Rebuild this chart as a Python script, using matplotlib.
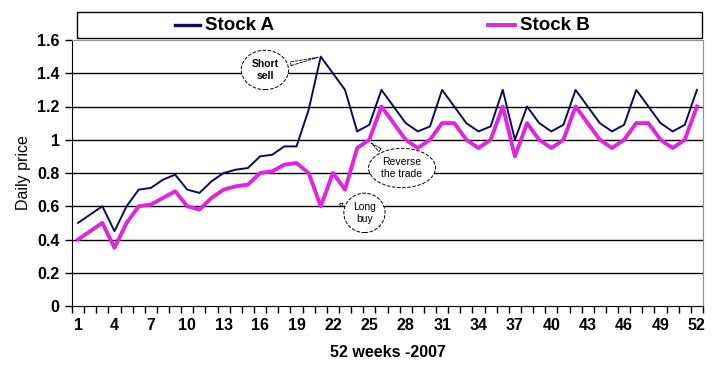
#imports
import numpy as np
import matplotlib
matplotlib.use('Agg')
from matplotlib import pyplot as plt
from matplotlib.patches import Rectangle
from matplotlib.lines import Line2D

plt.rcParams['font.family'] = ['Liberation Sans', 'DejaVu Sans']

#dados
semanas = list(range(1, 53))
stockA = [0.50, 0.55, 0.60, 0.45, 0.60, 0.70, 0.71, 0.76, 0.79, 0.70,
          0.68, 0.75, 0.80, 0.82, 0.83, 0.90, 0.91, 0.96, 0.96, 1.18,
          1.50, 1.40, 1.30, 1.05, 1.09, 1.30, 1.20, 1.10, 1.05, 1.08,
          1.30, 1.20, 1.10, 1.05, 1.08, 1.30, 1.00, 1.20, 1.10, 1.05,
          1.09, 1.30, 1.20, 1.10, 1.05, 1.09, 1.30, 1.20, 1.10, 1.05,
          1.09, 1.30]
stockB = [0.40, 0.45, 0.50, 0.35, 0.50, 0.60, 0.61, 0.65, 0.69, 0.60,
          0.58, 0.65, 0.70, 0.72, 0.73, 0.80, 0.81, 0.85, 0.86, 0.80,
          0.60, 0.80, 0.70, 0.95, 1.00, 1.20, 1.10, 1.00, 0.95, 1.00,
          1.10, 1.10, 1.00, 0.95, 1.00, 1.20, 0.90, 1.10, 1.00, 0.95,
          1.00, 1.20, 1.10, 1.00, 0.95, 1.00, 1.10, 1.10, 1.00, 0.95,
          1.00, 1.20]
rotulosX = list(range(1, 53, 3))
rotulosY = [0, 0.2, 0.4, 0.6, 0.8, 1, 1.2, 1.4, 1.6]

corA = '#0b0b5c'
corB = '#e024e0'

#figura
fig = plt.figure(figsize=(7.23, 3.73), dpi=100)
ax = fig.add_axes([72/723, 1 - 306/373, 631/723, 266/373])

#grade
for v in rotulosY[1:-1]:
    ax.axhline(v, color='black', lw=1.0, zorder=1)

#linhas
ax.plot(semanas, stockB, color=corB, lw=2.8, zorder=3)
ax.plot(semanas, stockA, color=corA, lw=1.4, zorder=4)

ax.set_xlim(0.5, 52.5)
ax.set_ylim(0, 1.6)
ax.set_yticks(rotulosY)
ax.set_yticklabels(['0', '0.2', '0.4', '0.6', '0.8', '1', '1.2', '1.4', '1.6'],
                   fontweight='bold', fontsize=11.5)
ax.set_xticks(rotulosX)
ax.set_xticklabels([str(s) for s in rotulosX], fontweight='bold', fontsize=11.5)
ax.set_xticks(np.arange(0.5, 53, 1), minor=True)
ax.tick_params(axis='x', which='major', length=0, pad=9)
ax.tick_params(axis='x', which='minor', length=5, direction='out', width=1)
ax.tick_params(axis='y', length=5, direction='out', width=1, pad=4)

for lado in ['top', 'right']:
    ax.spines[lado].set_color('#909090')

ax.set_ylabel('Daily price', fontsize=11.5, labelpad=4)
ax.set_xlabel('52 weeks -2007', fontweight='bold', fontsize=11.5, labelpad=8)

#legenda
fig.patches.append(Rectangle((77/723, 1 - 38/373), 625/723, 26/373,
                             transform=fig.transFigure, fill=False,
                             ec='black', lw=1.0))
yl = 1 - 25/373
fig.lines.append(Line2D([175/723, 200/723], [yl, yl], color=corA, lw=2.4,
                        transform=fig.transFigure))
fig.text(205/723, yl, 'Stock A', fontsize=13.5, fontweight='bold', va='center')
fig.lines.append(Line2D([488/723, 515/723], [yl, yl], color=corB, lw=2.8,
                        transform=fig.transFigure))
fig.text(520/723, yl, 'Stock B', fontsize=13.5, fontweight='bold', va='center')

#balões
caixa = dict(boxstyle='ellipse,pad=0.3', fc='white', ec='black', lw=0.7, ls='--')
seta = dict(arrowstyle='wedge,tail_width=0.35,shrink_factor=0.5', fc='white',
            ec='black', lw=0.6, ls='--')
ax.annotate('Short\nsell', xy=(21, 1.5), xytext=(16.4, 1.42), fontsize=7.5,
            fontweight='bold', ha='center', va='center', bbox=caixa,
            arrowprops=seta, zorder=6)
ax.annotate('Reverse\nthe trade', xy=(25, 0.99), xytext=(27.7, 0.83), fontsize=7.5,
            ha='center', va='center', bbox=caixa, arrowprops=seta, zorder=6)
ax.annotate('Long\nbuy', xy=(22.3, 0.62), xytext=(24.6, 0.56), fontsize=7.5,
            ha='center', va='center', bbox=caixa, arrowprops=seta, zorder=6)

#salva
fig.savefig('out.png', dpi=100)
